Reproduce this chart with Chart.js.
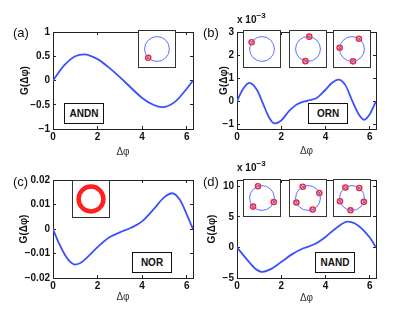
<!DOCTYPE html>
<html>
<head>
<meta charset="utf-8">
<script src="https://cdn.jsdelivr.net/npm/chart.js"></script>
<style>
  body { margin: 0; background: #fff; width: 415px; height: 313px; overflow: hidden; }
  .abs { position: absolute; }
  .inset { position: absolute; border: 1px solid #333; background: #fff; }
  .gate { position: absolute; border: 1.5px solid #111; background: #fff; box-sizing: border-box;
          font: bold 10px "Liberation Sans", Arial, sans-serif; color: #111;
          display: flex; align-items: center; justify-content: center; }
  .plabel { position: absolute; font: 13px "Liberation Sans", Arial, sans-serif; color: #111; line-height: 15px; }
  .mult { position: absolute; font: bold 10px "Liberation Sans", Arial, sans-serif; color: #111; line-height: 12px; }
  .mult sup { font-size: 8px; position: relative; top: -1px; }
</style>
</head>
<body>

<canvas id="pa" class="abs"></canvas>
<canvas id="pb" class="abs"></canvas>
<canvas id="pc" class="abs"></canvas>
<canvas id="pd" class="abs"></canvas>

<canvas id="ia" class="inset"></canvas>
<canvas id="ib1" class="inset"></canvas>
<canvas id="ib2" class="inset"></canvas>
<canvas id="ib3" class="inset"></canvas>
<canvas id="ic" class="inset"></canvas>
<canvas id="id1" class="inset"></canvas>
<canvas id="id2" class="inset"></canvas>
<canvas id="id3" class="inset"></canvas>

<div class="gate" style="left:64px;top:103px;width:40px;height:21px;">ANDN</div>
<div class="gate" style="left:308px;top:103px;width:40px;height:21px;">ORN</div>
<div class="gate" style="left:132px;top:252px;width:40px;height:21px;">NOR</div>
<div class="gate" style="left:315px;top:252px;width:40px;height:21px;">NAND</div>

<div class="plabel" style="left:13px;top:25px;">(a)</div>
<div class="plabel" style="left:203px;top:25px;">(b)</div>
<div class="plabel" style="left:13px;top:174px;">(c)</div>
<div class="plabel" style="left:203px;top:174px;">(d)</div>

<div class="mult" style="left:237px;top:11px;">x 10<sup>−3</sup></div>
<div class="mult" style="left:237px;top:159px;">x 10<sup>−3</sup></div>

<script>
// phase difference samples and G values
const xA = [0, 0.5, 1.0, 1.4, 2.0, 2.5, 3.0, 3.5, 4.0, 4.5, 4.9, 5.5, 6.0, 6.283];
const gA = [0, 0.31, 0.50, 0.54, 0.44, 0.27, 0.07, -0.15, -0.36, -0.50, -0.55, -0.43, -0.17, 0];

const xB = [0, 0.25, 0.55, 0.9, 1.2, 1.45, 1.7, 2.0, 2.35, 2.7, 3.2, 3.6, 4.0, 4.3, 4.58, 4.9, 5.2, 5.5, 5.75, 6.0, 6.283];
const gB = [0, 0.5, 0.8, 0.5, -0.16, -0.7, -0.96, -0.83, -0.43, -0.14, 0.03, 0.14, 0.5, 0.8, 0.94, 0.7, 0.04, -0.56, -0.8, -0.56, 0];

const xC = [0, 0.25, 0.5, 0.75, 1.0, 1.25, 1.5, 2.0, 2.5, 3.0, 3.5, 4.0, 4.5, 5.0, 5.35, 5.7, 6.0, 6.283];
const gC = [0, -0.0055, -0.010, -0.0132, -0.0145, -0.0138, -0.0119, -0.0074, -0.0036, -0.0014, 0.0005, 0.0031, 0.0079, 0.013, 0.0146, 0.0118, 0.006, 0];

const xD = [0, 0.5, 0.8, 1.15, 1.5, 2.0, 2.5, 3.0, 3.5, 4.0, 4.5, 5.0, 5.5, 6.0, 6.283];
const gD = [0, -2.2, -3.4, -4.0, -3.6, -2.4, -1.1, -0.15, 0.5, 1.7, 3.2, 4.2, 3.5, 1.6, 0];

const xTicks = [0, 2, 4, 6];
const xTickLabels = ['0', '2', '4', '6'];
const yTicksA = [-1, -0.5, 0, 0.5, 1];
const yLabelsA = ['−1', '−0.5', '0', '0.5', '1'];
const yTicksB = [-1, 0, 1, 2, 3];
const yLabelsB = ['−1', '0', '1', '2', '3'];
const yTicksC = [-0.02, -0.01, 0, 0.01, 0.02];
const yLabelsC = ['−0.02', '−0.01', '0', '0.01', '0.02'];
const yTicksD = [-5, 0, 5, 10];
const yLabelsD = ['−5', '0', '5', '10'];

// inset marker angles (degrees) on the unit circle
const angA = [225];
const angB1 = [147];
const angB2 = [84, 258];
const angB3 = [56, 174, 275];
const angD1 = [109, 341, 224];
const angD2 = [115, 24, 292, 201];
const angD3 = [122, 54, 342, 263, 195];

const FONT = '"Liberation Sans", Arial, sans-serif';
const INK = '#111';
const LINE_BLUE = '#3d50ff';

function placeCanvas(id, left, top, w, h) {
  const c = document.getElementById(id);
  c.width = w; c.height = h;
  c.style.left = left + 'px'; c.style.top = top + 'px';
  c.style.width = w + 'px'; c.style.height = h + 'px';
  return c;
}

function boxAxis(pos, min, max, ticks) {
  return {
    type: 'linear', position: pos, min: min, max: max,
    afterBuildTicks: s => { s.ticks = ticks.map(v => ({value: v})); },
    ticks: {display: false},
    grid: {drawOnChartArea: false, tickLength: -3, color: '#222', lineWidth: 1},
    border: {color: '#222', width: 1},
    afterFit: s => { if (pos === 'top') s.height = 0; else s.width = 0; }
  };
}

function panel(id, p) {
  const L = p.L - p.wy, T = p.T - 5;
  const W = p.wy + (p.R - p.L) + 5, H = 5 + (p.B - p.T) + p.hx;
  const cv = placeCanvas(id, L, T, W, H);
  new Chart(cv, {
    type: 'line',
    data: {
      datasets: [{
        data: p.xs.map((x, i) => ({x: x, y: p.ys[i]})),
        borderColor: LINE_BLUE, borderWidth: 1.8, pointRadius: 0,
        cubicInterpolationMode: 'monotone', fill: false
      }]
    },
    options: {
      responsive: false, animation: false, events: [],
      layout: {padding: {top: 5, right: 5, left: 0, bottom: 0}, autoPadding: false},
      plugins: {legend: {display: false}, tooltip: {enabled: false}},
      scales: {
        x: {
          type: 'linear', min: 0, max: 2 * Math.PI,
          afterBuildTicks: s => { s.ticks = xTicks.map(v => ({value: v})); },
          ticks: {callback: (v, i) => xTickLabels[i], font: {family: FONT, size: 10, weight: 'bold'},
                  color: INK, padding: 5, maxRotation: 0, autoSkip: false},
          grid: {drawOnChartArea: false, tickLength: -3, color: '#222'},
          border: {color: '#222', width: 1},
          title: {display: true, text: 'Δφ', padding: 0, color: '#333', font: {family: FONT, size: 10}},
          afterFit: s => { s.height = p.hx; }
        },
        y: {
          type: 'linear', min: p.ymin, max: p.ymax,
          afterBuildTicks: s => { s.ticks = p.yt.map(v => ({value: v})); },
          ticks: {callback: (v, i) => p.yl[i], font: {family: FONT, size: 10, weight: 'bold'},
                  color: INK, padding: 6, autoSkip: false},
          grid: {drawOnChartArea: false, tickLength: -3, color: '#222'},
          border: {color: '#222', width: 1},
          title: {display: true, text: 'G(Δφ)', padding: 0, color: INK, font: {family: FONT, size: 10, weight: 'bold'}},
          afterFit: s => { s.width = p.wy; }
        },
        x2: boxAxis('top', 0, 2 * Math.PI, xTicks),
        y2: boxAxis('right', p.ymin, p.ymax, p.yt)
      }
    }
  });
}

panel('pa', {L: 53, T: 25, R: 193, B: 129, wy: 34, hx: 29, xs: xA, ys: gA, ymin: -1, ymax: 1, yt: yTicksA, yl: yLabelsA});
panel('pb', {L: 237, T: 25, R: 376, B: 129, wy: 19, hx: 28, xs: xB, ys: gB, ymin: -1.2, ymax: 3, yt: yTicksB, yl: yLabelsB});
panel('pc', {L: 53, T: 173, R: 193, B: 278, wy: 35, hx: 25, xs: xC, ys: gC, ymin: -0.02, ymax: 0.02, yt: yTicksC, yl: yLabelsC});
panel('pd', {L: 237, T: 173, R: 376, B: 278, wy: 31, hx: 26, xs: xD, ys: gD, ymin: -5, ymax: 11, yt: yTicksD, yl: yLabelsD});

// insets: 36px canvas spanning -1.45..1.45, so the unit circle is 36 / 2.9 px
const INSET_SIZE = 36;
const INSET_RANGE = 1.45;
const UNIT_PX = INSET_SIZE / (2 * INSET_RANGE);

function inset(id, left, top, angles, ring) {
  const cv = placeCanvas(id, left, top, INSET_SIZE, INSET_SIZE);
  cv.style.boxSizing = 'content-box';
  const pts = angles.map(a => ({x: Math.cos(a * Math.PI / 180), y: Math.sin(a * Math.PI / 180)}));
  const datasets = [];
  if (ring) {
    datasets.push({data: [{x: 0, y: 0}], pointRadius: UNIT_PX, pointBorderWidth: 4.5,
                   pointBorderColor: '#ff1f1f', pointBackgroundColor: 'rgba(0,0,0,0)'});
  }
  datasets.push({data: [{x: 0, y: 0}], pointRadius: UNIT_PX, pointBorderWidth: 1,
                 pointBorderColor: ring ? '#4050ff' : '#5e6eff', pointBackgroundColor: 'rgba(0,0,0,0)'});
  datasets.push({data: pts, pointRadius: 2.6, pointBorderWidth: 1.4,
                 pointBorderColor: '#ff1f1f', pointBackgroundColor: 'rgba(255,80,80,0.35)'});
  datasets.push({data: pts, pointStyle: 'crossRot', pointRadius: 1.8, pointBorderWidth: 0.9,
                 pointBorderColor: '#3040ff'});
  datasets.forEach(d => { d.clip = false; });
  new Chart(cv, {
    type: 'scatter',
    data: {datasets: datasets},
    options: {
      responsive: false, animation: false, events: [],
      layout: {padding: 0, autoPadding: false},
      plugins: {legend: {display: false}, tooltip: {enabled: false}},
      scales: {
        x: {display: false, min: -INSET_RANGE, max: INSET_RANGE},
        y: {display: false, min: -INSET_RANGE, max: INSET_RANGE}
      }
    }
  });
}

inset('ia', 138, 30, angA, false);
inset('ib1', 243, 30, angB1, false);
inset('ib2', 289, 30, angB2, false);
inset('ib3', 333, 30, angB3, false);
inset('ic', 72, 180, [], true);
inset('id1', 243, 179, angD1, false);
inset('id2', 289, 179, angD2, false);
inset('id3', 333, 179, angD3, false);
</script>
</body>
</html>
